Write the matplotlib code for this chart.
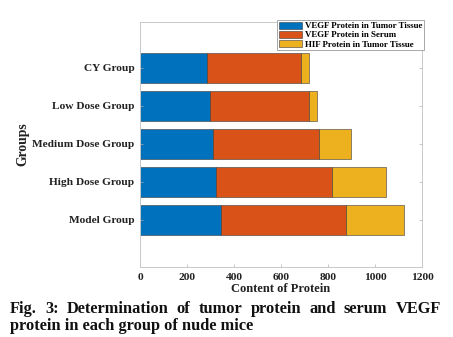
import matplotlib
matplotlib.use("Agg")
import matplotlib.pyplot as plt
import numpy as np

groups = ["Model Group", "High Dose Group", "Medium Dose Group", "Low Dose Group", "CY Group"]
vegf_tumor = [346, 323, 312, 299, 287]
vegf_serum = [532, 494, 451, 421, 398]
hif_tumor = [245, 228, 136, 35, 33]
series_names = ["VEGF Protein in Tumor Tissue", "VEGF Protein in Serum", "HIF Protein in Tumor Tissue"]
colors = ["#0072BD", "#D95319", "#EDB120"]
xticks = [0, 200, 400, 600, 800, 1000, 1200]

serif = ["Liberation Serif", "DejaVu Serif"]
W, H = 453, 337
fig = plt.figure(figsize=(W / 100, H / 100), dpi=100)
ax = fig.add_axes([140 / W, 1 - 267 / H, (422 - 140) / W, (267 - 22) / H])

y = np.arange(1, len(groups) + 1)
left = np.zeros(len(groups))
handles = []
for vals, c, name in zip([vegf_tumor, vegf_serum, hif_tumor], colors, series_names):
    b = ax.barh(y, vals, left=left, height=0.8, color=c, edgecolor="#3a3a3a",
                linewidth=0.4, label=name)
    handles.append(b)
    left = left + np.array(vals)

ax.set_xlim(0, 1200)
ax.set_ylim(1 - 1.24, 5 + 1.21)
ax.set_xticks(xticks)
ax.set_xticklabels([str(t) for t in xticks])
ax.set_yticks(y)
ax.set_yticklabels(groups)
for s in ax.spines.values():
    s.set_color("#c8c8c8")
    s.set_linewidth(0.7)
ax.tick_params(axis="both", which="both", length=2.5, width=0.5, color="#b0b0b0",
               labelsize=8.2, labelcolor="#222222", pad=4)
ax.tick_params(axis="y", left=True, right=True, direction="in")
ax.tick_params(axis="x", top=False, direction="in")
for lab in ax.get_xticklabels() + ax.get_yticklabels():
    lab.set_family(serif)
    lab.set_fontweight("bold")

ax.set_xlabel("Content of Protein", family=serif, fontweight="bold", fontsize=9,
              color="#222222", labelpad=1)
ax.set_ylabel("Groups", family=serif, fontweight="bold", fontsize=9.8,
              color="#222222", labelpad=2)

leg = fig.legend(handles=handles, labels=series_names, loc="upper left",
                 bbox_to_anchor=(277 / W, 1 - 20 / H), prop={"family": serif, "weight": "bold", "size": 6.4},
                 frameon=True, fancybox=False, edgecolor="#9a9a9a", framealpha=1,
                 borderpad=0.2, labelspacing=0.08, handlelength=2.6, handleheight=0.8,
                 handletextpad=0.35, borderaxespad=0)
leg.get_frame().set_linewidth(0.6)

# caption, first line justified between the margins
line1 = ["Fig.", "3:", "Determination", "of", "tumor", "protein", "and", "serum", "VEGF"]
line2 = "protein in each group of nude mice"
cap_kw = dict(family=serif, fontweight="bold", fontsize=11.8, color="#111111", va="baseline")
x_left, x_right = 10, 441
y1 = 1 - 313 / H
texts = [fig.text(0, y1, w, ha="left", **cap_kw) for w in line1]
fig.canvas.draw()
r = fig.canvas.get_renderer()
widths = [t.get_window_extent(r).width for t in texts]
gap = ((x_right - x_left) - sum(widths)) / (len(line1) - 1)
xpos = x_left
for t, w in zip(texts, widths):
    t.set_x(xpos / W)
    xpos += w + gap
fig.text(x_left / W, 1 - 330 / H, line2, ha="left", **cap_kw)

fig.savefig("out.png", dpi=100)
